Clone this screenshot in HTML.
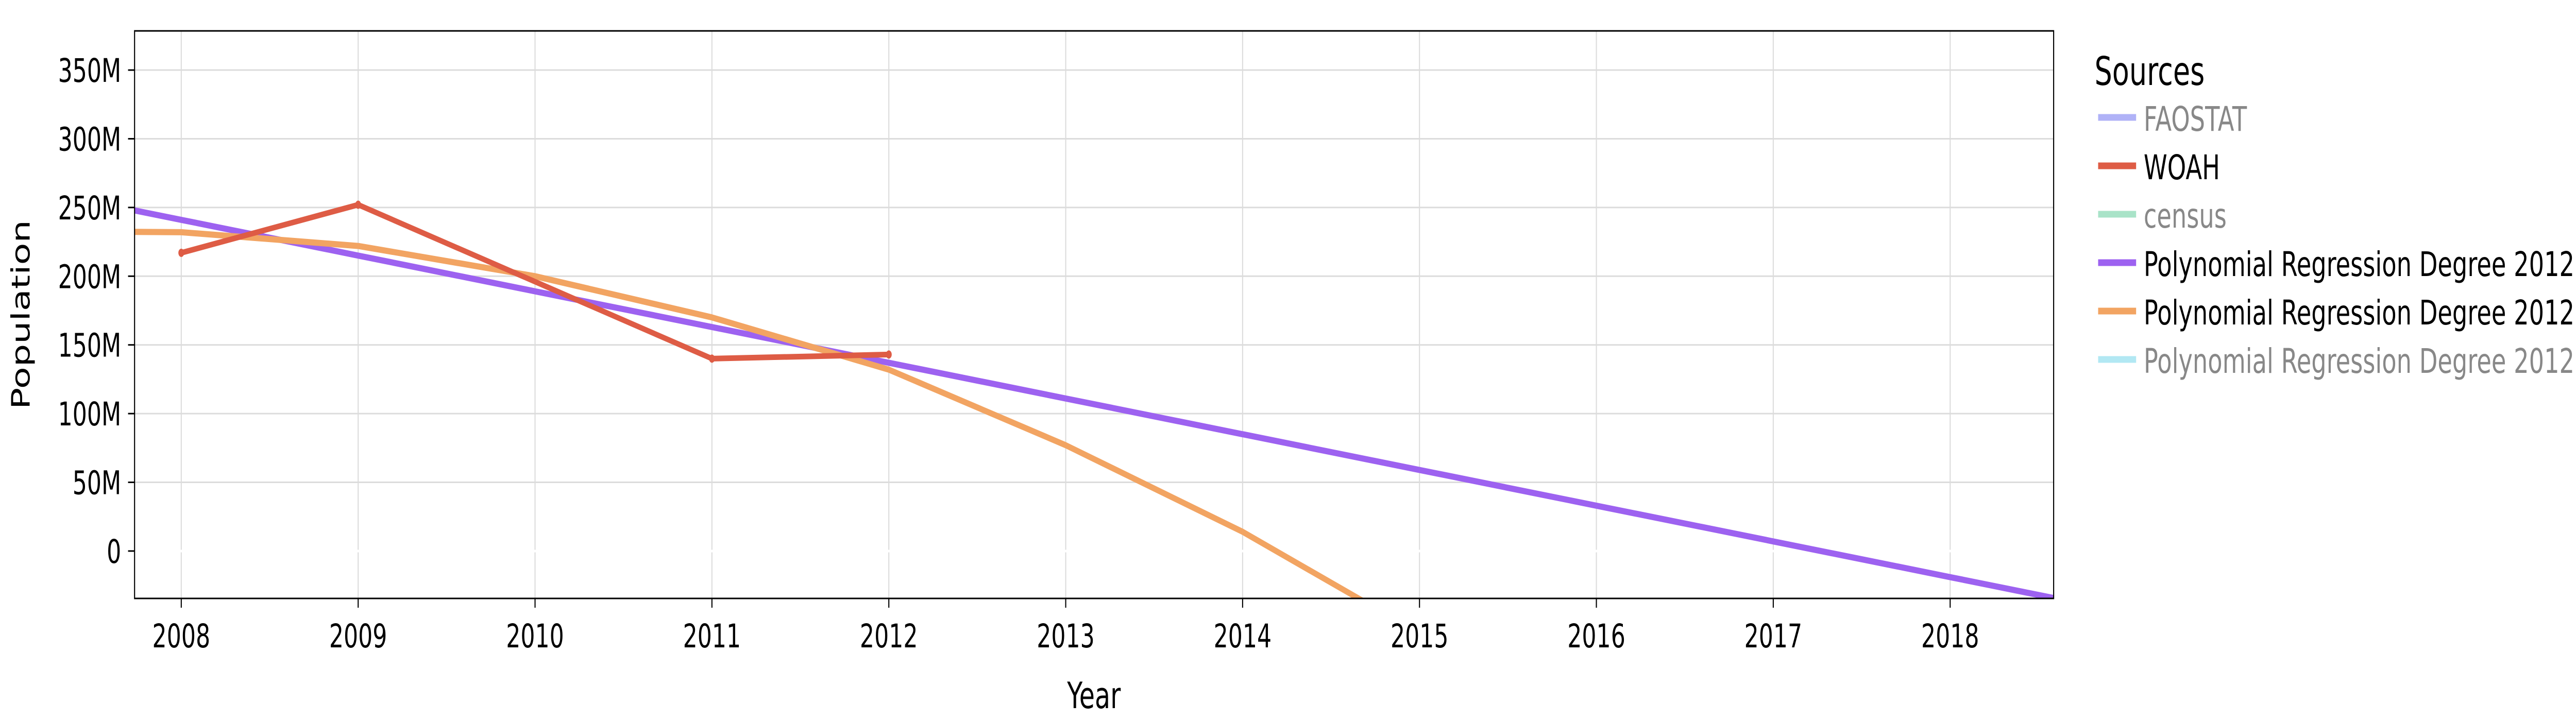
<!DOCTYPE html>
<html><head><meta charset="utf-8"><style>
html,body{margin:0;padding:0;background:#fff;overflow:hidden;width:100%;height:100%;}
svg{display:block;width:100vw;height:100vh;font-family:"DejaVu Sans","Liberation Sans",sans-serif;}
</style></head><body>
<svg id="chart" viewBox="0 0 7121 1400" preserveAspectRatio="none" xmlns="http://www.w3.org/2000/svg">
<defs><clipPath id="plotclip"><rect x="372" y="60" width="5305" height="1102"/></clipPath></defs>
<rect x="0" y="0" width="7121" height="1400" fill="#fff"/>
<g id="grid"></g>
<g id="series" clip-path="url(#plotclip)"></g>
<rect x="372" y="60" width="5305" height="1102" fill="none" stroke="#000" stroke-width="3"/>
<g id="axes"></g>
<text x="63" y="611" font-size="70" text-anchor="middle" transform="rotate(-90 63 611)" dominant-baseline="middle">Population</text>
<text x="3024" y="1375" font-size="70" text-anchor="middle">Year</text>
<g id="legend">
<text x="5790" y="165" font-size="77">Sources</text>
</g>
</svg>
<script>
const years = [2008, 2009, 2010, 2011, 2012, 2013, 2014, 2015, 2016, 2017, 2018];
const yTicks = [0, 50, 100, 150, 200, 250, 300, 350];
const yTickLabels = ["0", "50M", "100M", "150M", "200M", "250M", "300M", "350M"];
const woahYears = [2008, 2009, 2011, 2012];
const woahValues = [217, 252, 140, 143];
const polyPurpleYears = [2007, 2008, 2009, 2010, 2011, 2012, 2013, 2014, 2015, 2016, 2017, 2018, 2019];
const polyPurpleValues = [267, 241, 215, 189, 163, 137, 111, 85, 59, 33, 7, -19, -45];
const polyOrangeYears = [2007, 2008, 2009, 2010, 2011, 2012, 2013, 2014, 2015];
const polyOrangeValues = [233, 232, 222, 200, 170, 132, 77, 14, -60];
const legendNames = ["FAOSTAT", "WOAH", "census", "Polynomial Regression Degree 2012", "Polynomial Regression Degree 2012", "Polynomial Regression Degree 2012"];

const NS = "http://www.w3.org/2000/svg";
const X0 = 372, X1 = 5677, Y0 = 60, Y1 = 1162;
const xMin = 2007.736, xMax = 2018.585;
const yMin = -34.5, yMax = 378.5;
function xs(v){ return X0 + (v - xMin) / (xMax - xMin) * (X1 - X0); }
function ys(v){ return Y1 - (v - yMin) / (yMax - yMin) * (Y1 - Y0); }
function mk(tag, attrs, parent){
  const e = document.createElementNS(NS, tag);
  for (const k in attrs) e.setAttribute(k, attrs[k]);
  parent.appendChild(e); return e;
}
const grid = document.getElementById('grid');
const axes = document.getElementById('axes');
const series = document.getElementById('series');
const legend = document.getElementById('legend');

years.forEach(function(yr){
  const x = xs(yr);
  const g = mk('line', {x1:x, x2:x, y1:Y0, y2:Y1, stroke:'#dcdcdc', 'stroke-width':3}, grid);
  
  
  const t = mk('line', {x1:x, x2:x, y1:Y1, y2:Y1+18, stroke:'#000', 'stroke-width':3}, axes);
  
  
  const l = mk('text', {x:x, y:1257, 'font-size':63, 'text-anchor':'middle'}, axes);
  l.textContent = String(yr);
  
  
});
yTicks.forEach(function(v, i){
  const y = ys(v);
  const g = mk('line', {x1:X0, x2:X1, y1:y, y2:y, stroke: v === 0 ? '#fff' : '#dcdcdc', 'stroke-width': v === 0 ? 5 : 3}, grid);
  
  
  const t = mk('line', {x1:X0-18, x2:X0, y1:y, y2:y, stroke:'#000', 'stroke-width':3}, axes);
  
  
  const l = mk('text', {x:335, y:y+23, 'font-size':63, 'text-anchor':'end'}, axes);
  l.textContent = yTickLabels[i];
  
  
});
function pts(xa, va){ return xa.map(function(x, i){ return xs(x) + ',' + ys(va[i]); }).join(' '); }
const p1 = mk('polyline', {points: pts(polyPurpleYears, polyPurpleValues), fill:'none', stroke:'#9D62F0', 'stroke-width':12, 'stroke-linejoin':'round'}, series);


const p2 = mk('polyline', {points: pts(polyOrangeYears, polyOrangeValues), fill:'none', stroke:'#F2A462', 'stroke-width':12, 'stroke-linejoin':'round'}, series);


const p3 = mk('polyline', {points: pts(woahYears, woahValues), fill:'none', stroke:'#DE5C45', 'stroke-width':11, 'stroke-linejoin':'round'}, series);


woahYears.forEach(function(yr, i){
  const c = mk('circle', {cx:xs(yr), cy:ys(woahValues[i]), r:8, fill:'#DE5C45'}, series);
  
  
});
const swatchColors = ['#B0B2F7', '#DE5C45', '#A9E3C8', '#9D62F0', '#F2A462', '#B2E8F3'];
const textColors = ['#888', '#000', '#888', '#000', '#000', '#888'];
legendNames.forEach(function(name, i){
  const base = 254 + i * 94;
  const s = mk('line', {x1:5800, x2:5905, y1:base-26, y2:base-26, stroke:swatchColors[i], 'stroke-width':13}, legend);
  
  
  const t = mk('text', {x:5926, y:base, 'font-size':66, fill:textColors[i]}, legend);
  t.textContent = name;
  
  
});
</script>
</body></html>
